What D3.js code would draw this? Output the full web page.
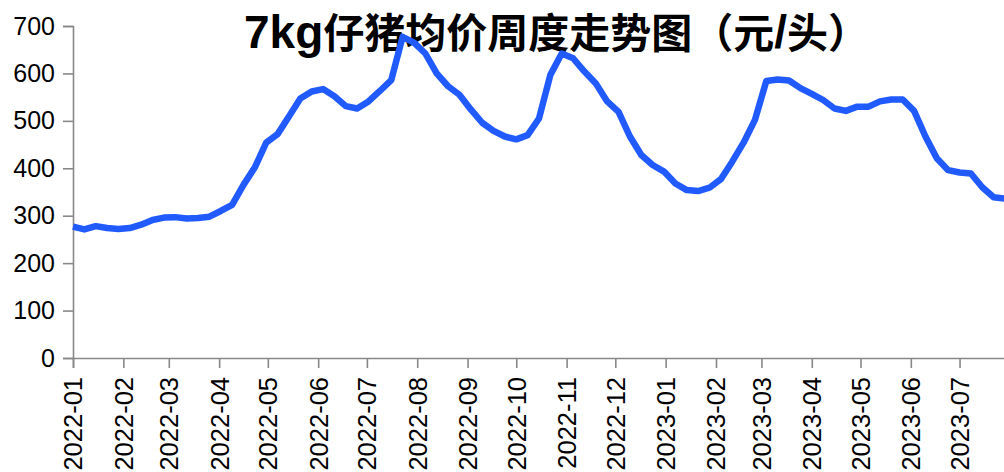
<!DOCTYPE html>
<html>
<head>
<meta charset="utf-8">
<script src="https://cdn.jsdelivr.net/npm/d3@7/dist/d3.min.js"></script>
<style>
  html, body { margin: 0; padding: 0; background: #fff; overflow: hidden; }
  svg { display: block; }
</style>
</head>
<body>
<svg id="chart" width="1004" height="472"></svg>
<script>
const title = "7kg仔猪均价周度走势图（元/头）";

const dates = [
  "2022-01-01","2022-01-08","2022-01-15","2022-01-22","2022-01-29",
  "2022-02-05","2022-02-12","2022-02-19","2022-02-26",
  "2022-03-05","2022-03-12","2022-03-19","2022-03-26",
  "2022-04-02","2022-04-09","2022-04-16","2022-04-23","2022-04-30",
  "2022-05-07","2022-05-14","2022-05-21","2022-05-28",
  "2022-06-04","2022-06-11","2022-06-18","2022-06-25",
  "2022-07-02","2022-07-09","2022-07-16","2022-07-23","2022-07-30",
  "2022-08-06","2022-08-13","2022-08-20","2022-08-27",
  "2022-09-03","2022-09-10","2022-09-17","2022-09-24",
  "2022-10-01","2022-10-08","2022-10-15","2022-10-22","2022-10-29",
  "2022-11-05","2022-11-12","2022-11-19","2022-11-26",
  "2022-12-03","2022-12-10","2022-12-17","2022-12-24","2022-12-31",
  "2023-01-07","2023-01-14","2023-01-21","2023-01-28",
  "2023-02-04","2023-02-11","2023-02-18","2023-02-25",
  "2023-03-04","2023-03-11","2023-03-18","2023-03-25",
  "2023-04-01","2023-04-08","2023-04-15","2023-04-22","2023-04-29",
  "2023-05-06","2023-05-13","2023-05-20","2023-05-27",
  "2023-06-03","2023-06-10","2023-06-17","2023-06-24",
  "2023-07-01","2023-07-08","2023-07-15","2023-07-22","2023-07-29"
];

const prices = [
  277,271,278,274,272,
  274,281,291,296,
  297,294,295,298,
  310,323,365,402,454,
  472,509,547,562,
  567,552,531,526,
  541,563,586,677,665,
  642,600,573,555,
  524,496,479,467,
  461,470,505,597,642,
  632,604,579,541,
  519,467,428,407,393,
  368,354,352,359,
  377,414,454,502,
  584,587,585,569,
  557,544,526,521,530,
  530,541,545,545,
  521,467,421,396,
  391,389,360,339,336
];

const yTicks = [0,100,200,300,400,500,600,700];
const xTickLabels = [
  "2022-01","2022-02","2022-03","2022-04","2022-05","2022-06","2022-07",
  "2022-08","2022-09","2022-10","2022-11","2022-12","2023-01","2023-02",
  "2023-03","2023-04","2023-05","2023-06","2023-07"
];

const parse = d3.utcParse("%Y-%m-%d");
const parseMonth = d3.utcParse("%Y-%m");
const data = dates.map((d, i) => ({ date: parse(d), value: prices[i] }));

const svg = d3.select("#chart");
const mLeft = 73, mTop = 26, mBottom = 358;

const x = d3.scaleUtc()
  .domain([parse("2022-01-01"), parse("2023-07-29")])
  .range([mLeft, 1005]);

const y = d3.scaleLinear()
  .domain([0, 700])
  .range([mBottom, mTop]);

const axisColor = "#888888";
const labelFont = "'Liberation Sans', Arial, sans-serif";

// Title (drawn beneath the line); Latin glyphs slightly larger than CJK glyphs
const titleText = svg.append("text")
  .attr("x", 244)
  .attr("y", 48)
  .style("font-family", "'Liberation Sans', 'Noto Sans CJK SC', sans-serif")
  .style("font-weight", "bold")
  .attr("fill", "#000");
const titleParts = title.match(/[\x00-\x7F]+|[^\x00-\x7F]+/g);
titleParts.forEach(p => {
  titleText.append("tspan")
    .style("font-size", /^[\x00-\x7F]+$/.test(p) ? "46px" : "41px")
    .text(p);
});

// Y axis
const yAxis = svg.append("g")
  .attr("transform", `translate(${mLeft},0)`)
  .call(d3.axisLeft(y).tickValues(yTicks).tickSize(10).tickPadding(8).tickFormat(d3.format("d")));
yAxis.select(".domain").attr("stroke", axisColor).attr("stroke-width", 1.6);
yAxis.selectAll(".tick line").attr("stroke", axisColor).attr("stroke-width", 1.6);
yAxis.selectAll(".tick text")
  .attr("fill", "#000")
  .style("font-family", labelFont)
  .style("font-size", "25px");

// X axis
const xAxis = svg.append("g")
  .attr("transform", `translate(0,${mBottom})`)
  .call(d3.axisBottom(x)
    .tickValues(xTickLabels.map(parseMonth))
    .tickSize(10)
    .tickFormat(d3.utcFormat("%Y-%m")));
xAxis.select(".domain").attr("stroke", axisColor).attr("stroke-width", 1.6);
xAxis.selectAll(".tick line").attr("stroke", axisColor).attr("stroke-width", 1.6);
xAxis.selectAll(".tick text")
  .attr("fill", "#000")
  .style("font-family", labelFont)
  .style("font-size", "25.5px")
  .attr("transform", "rotate(-90)")
  .attr("text-anchor", "end")
  .attr("x", -19)
  .attr("y", 0)
  .attr("dy", "0.35em");

// Line
const line = d3.line()
  .x(d => x(d.date))
  .y(d => y(d.value));

svg.append("path")
  .datum(data)
  .attr("fill", "none")
  .attr("stroke", "#215bff")
  .attr("stroke-width", 6.5)
  .attr("stroke-linejoin", "round")
  .attr("stroke-linecap", "butt")
  .attr("d", line);
</script>
</body>
</html>
